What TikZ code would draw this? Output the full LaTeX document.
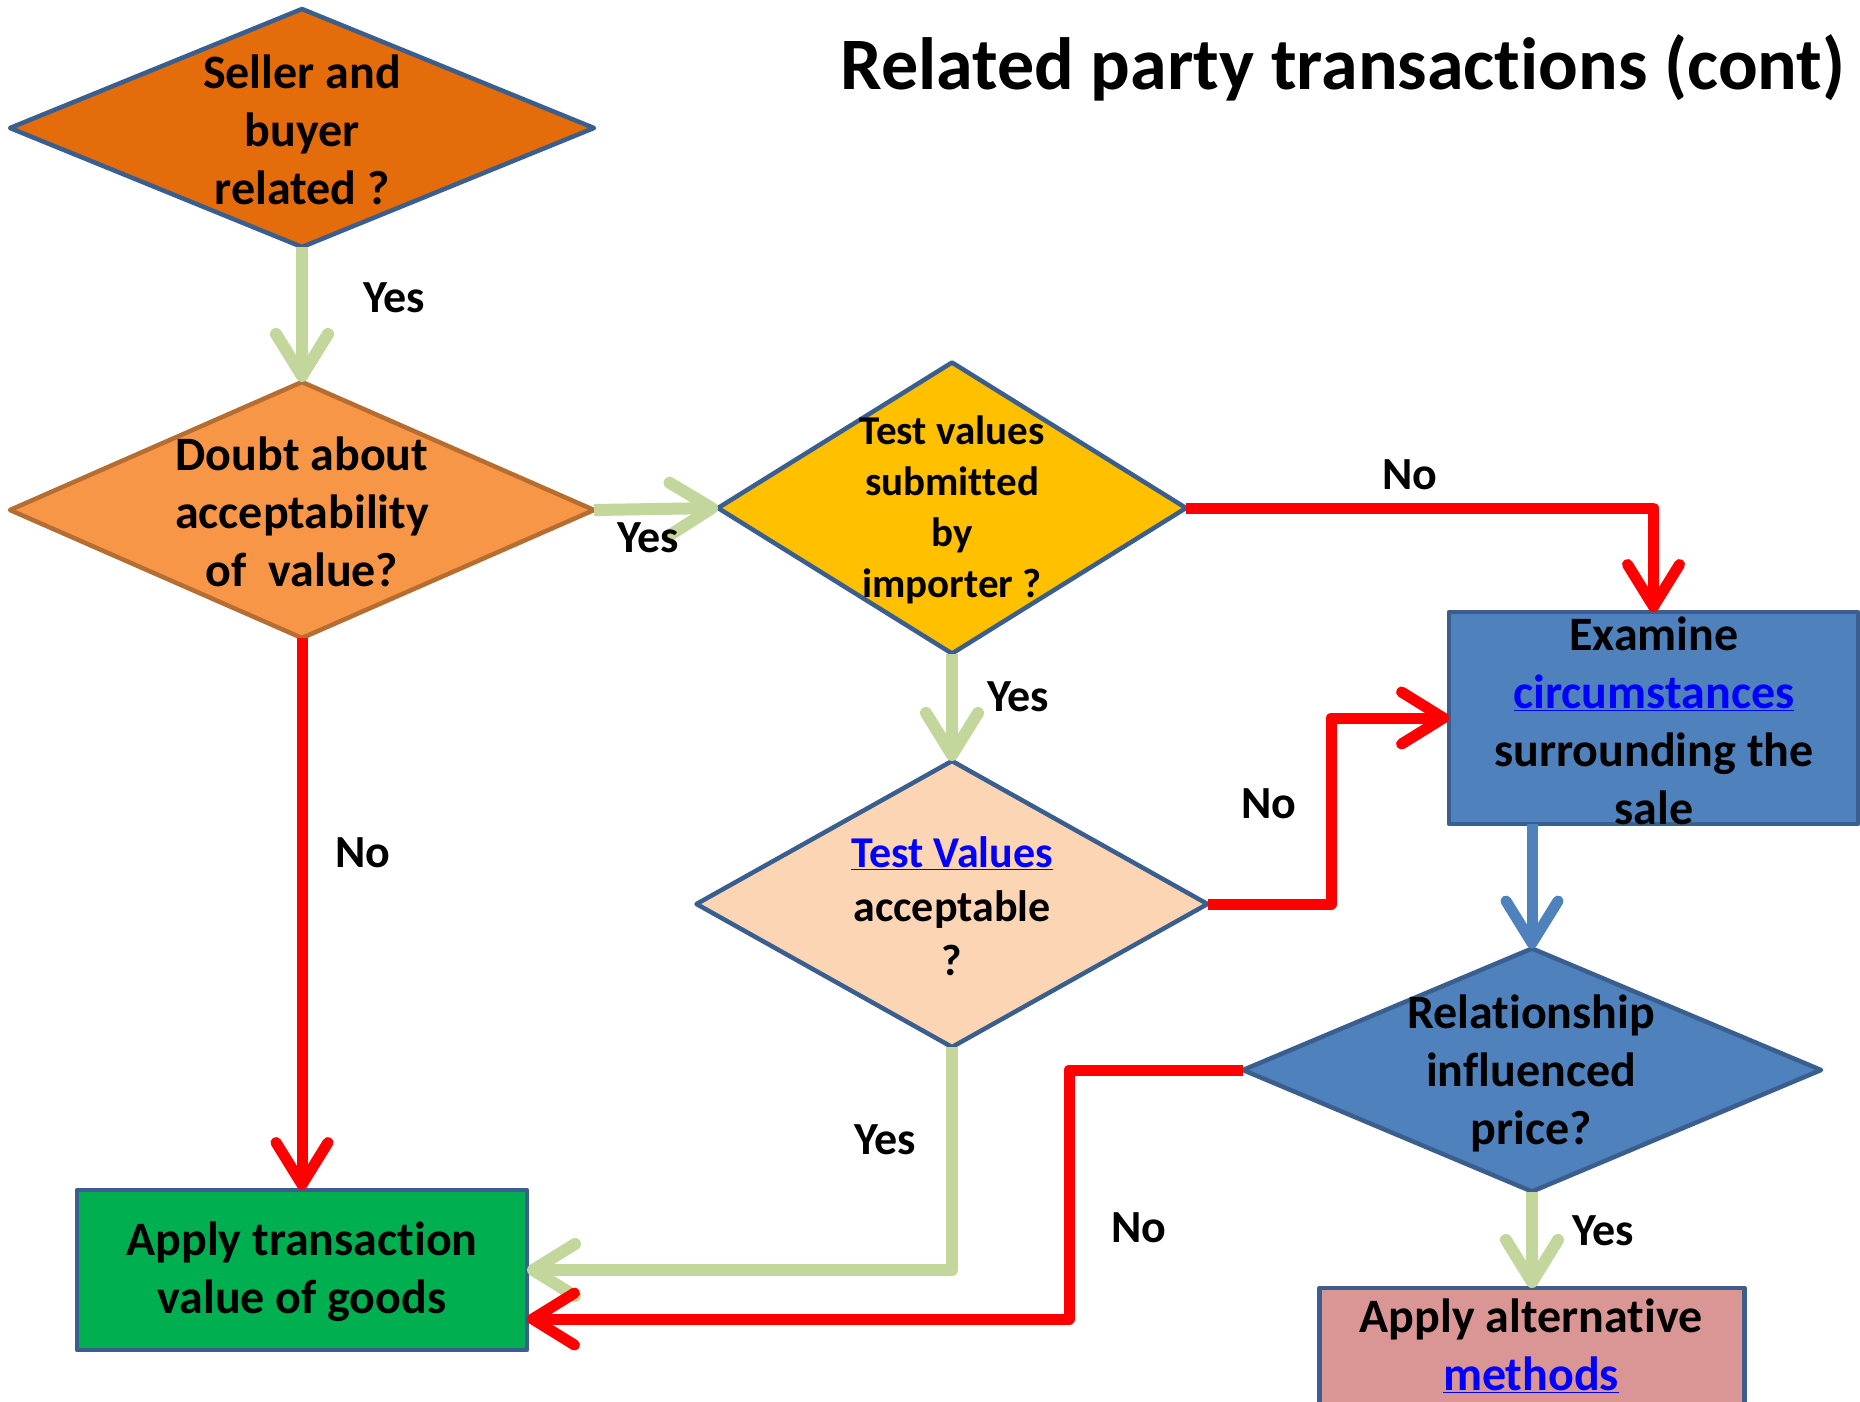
\documentclass[tikz,border=0pt]{standalone}
\usepackage{fontspec}
\setmainfont{Carlito}[Ligatures=NoCommon]
\usetikzlibrary{shapes.geometric,arrows.meta}
\definecolor{bordblue}{HTML}{3A5F8E}
\definecolor{bordorange}{HTML}{B66D31}
\definecolor{darkorange}{HTML}{E46C0A}
\definecolor{lightorange}{HTML}{F79646}
\definecolor{gold}{HTML}{FFC000}
\definecolor{peach}{HTML}{FCD5B5}
\definecolor{steel}{HTML}{4F81BD}
\definecolor{boxgreen}{HTML}{00B050}
\definecolor{rose}{HTML}{D99694}
\definecolor{arrgreen}{HTML}{C3D69B}
\definecolor{arrred}{HTML}{FF0000}
\definecolor{linkblue}{HTML}{0000FF}
\newcommand\lnk[1]{\textcolor{linkblue}{\underline{#1}}}
\begin{document}
\begin{tikzpicture}[x=1pt,y=-1pt,
  shapebase/.style={inner sep=0pt, outer sep=0pt, line width=4.5pt, line join=round},
  diam/.style={shapebase, diamond, draw=bordblue},
  rbox/.style={shapebase, rectangle, draw=bordblue},
  txt/.style={align=center, inner sep=0pt, font={\bfseries\fontsize{48}{58}\selectfont}},
  lbl/.style={inner sep=0pt, font={\bfseries\fontsize{46}{56}\selectfont}},
  conn/.style={line width=11pt, line join=round, -{Straight Barb[length=42pt,width=52pt,round]}},
  garrow/.style={conn, draw=arrgreen, line width=12pt},
  rarrow/.style={conn, draw=arrred},
  barrow/.style={conn, draw=steel},
]
\clip (0,0) rectangle (1860,1401);
\fill[white] (0,0) rectangle (1860,1401);

% title
\node[inner sep=0pt, anchor=base, font={\bfseries\fontsize{74}{89}\selectfont}] (title) at (1343,89) {Related party transactions (cont)};

% shapes
\node[diam, fill=darkorange, minimum width=584pt, minimum height=238pt] (d1) at (302,128) {};
\node[diam, fill=lightorange, draw=bordorange, minimum width=584pt, minimum height=256pt] (d2) at (302,510) {};
\node[diam, fill=gold, minimum width=468pt, minimum height=291pt] (d3) at (952,508) {};
\node[diam, fill=peach, minimum width=511pt, minimum height=286pt] (d4) at (952,904) {};
\node[diam, fill=steel, minimum width=578pt, minimum height=243pt] (d5) at (1532,1070) {};
\node[rbox, fill=steel, minimum width=409pt, minimum height=212pt] (exam) at (1653.5,718) {};
\node[rbox, fill=boxgreen, minimum width=450pt, minimum height=160pt] (gbox) at (302,1270) {};
\node[rbox, fill=rose, minimum width=425pt, minimum height=180pt] (pbox) at (1532,1378) {};

% connectors
\coordinate (k1) at (1331,904);
\coordinate (k2) at (1069,1070);
\draw[garrow] (d1.south) -- (d2.north);
\draw[garrow] (d2.east) -- (d3.west);
\draw[rarrow] (d3.east) -| (exam.north);
\draw[garrow] (d3.south) -- (d4.north);
\draw[rarrow] (d4.east) -- (k1) |- (exam.west);
\draw[barrow] (exam.south -| d5.north) -- (d5.north);
\draw[garrow] (d4.south) |- (gbox.east);
\draw[rarrow] (d5.west) -- (k2) |- ([yshift=-49pt]gbox.east);
\draw[garrow] (d5.south) -- (pbox.north);
\draw[rarrow] (d2.south) -- (gbox.north);

% texts
\node[txt] (t1) at (302,130) {Seller and\\buyer\\related ?};
\node[txt] (t2) at (302,512) {Doubt about\\acceptability\\of~ value?};
\node[txt, font={\bfseries\fontsize{41}{51}\selectfont}] (t3) at (952,510) {Test values\\submitted\\by\\importer ?};
\node[txt, font={\bfseries\fontsize{44}{54}\selectfont}] (t4) at (952,906) {\lnk{Test Values}\\acceptable\\?};
\node[txt] (t5) at (1531,1073) {Relationship\\influenced\\price?};
\node[txt] (t6) at (1654,721) {Examine\\\lnk{circumstances}\\surrounding the\\sale};
\node[txt] (t7) at (302,1272) {Apply transaction\\value of goods};
\node[txt] (t8) at (1531,1346) {Apply alternative\\\lnk{methods}};

% labels
\node[lbl] (l1) at (394,298) {Yes};
\node[lbl] (l2) at (648,538) {Yes};
\node[lbl] (l3) at (1410,475) {No};
\node[lbl] (l4) at (1018,697) {Yes};
\node[lbl] (l5) at (1269,804) {No};
\node[lbl] (l6) at (885,1140) {Yes};
\node[lbl] (l7) at (1139,1228) {No};
\node[lbl] (l8) at (1603,1231) {Yes};
\node[lbl] (l9) at (363,853) {No};
\end{tikzpicture}
\end{document}
